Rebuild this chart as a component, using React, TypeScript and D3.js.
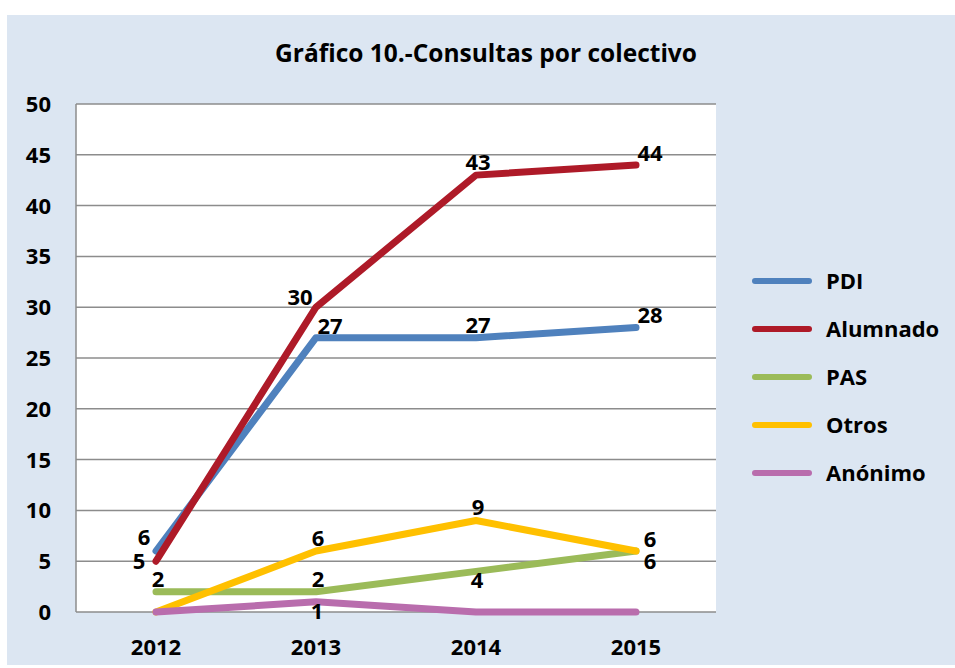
import { useEffect, useRef } from 'react';
import * as d3 from 'd3';

const years = ['2012', '2013', '2014', '2015'];
const seriesNames = ['PDI', 'Alumnado', 'PAS', 'Otros', 'Anónimo'];
const pdi = [6, 27, 27, 28];
const alumnado = [5, 30, 43, 44];
const pas = [2, 2, 4, 6];
const otros = [0, 6, 9, 6];
const anonimo = [0, 1, 0, 0];
const yTicks = [0, 5, 10, 15, 20, 25, 30, 35, 40, 45, 50];

const seriesValues = [pdi, alumnado, pas, otros, anonimo];
const colors = ['#4f81bd', '#ae1a28', '#9bbb59', '#ffc000', '#b96dad'];

// where each point's label sits (null = no label)
const labelPlacement: (string | null)[][] = [
  ['NW', 'NE', 'N', 'NE'],
  ['W', 'WN', 'N', 'NE'],
  ['N', 'N', 'S', 'SE'],
  [null, 'N', 'N', 'NE'],
  [null, 'S', null, null],
];

const offsets: Record<string, [number, number]> = {
  N: [2, -13],
  S: [1, 9],
  W: [-17, 0],
  NW: [-12, -14],
  WN: [-16, -10],
  NE: [14, -12],
  SE: [14, 10],
};

const W = 955;
const H = 668;
const FONT = "'Open Sans', sans-serif";

export default function App() {
  const svgRef = useRef<SVGSVGElement>(null);

  useEffect(() => {
    if (!svgRef.current) return;
    const svg = d3.select(svgRef.current);
    svg.selectAll('*').remove();

    const plot = { left: 76, right: 716, top: 104, bottom: 612 };

    svg.append('rect')
      .attr('x', 7)
      .attr('y', 15)
      .attr('width', W - 7)
      .attr('height', 650)
      .attr('fill', '#dce6f2');

    svg.append('text')
      .attr('x', 486)
      .attr('y', 62)
      .attr('text-anchor', 'middle')
      .attr('font-family', FONT)
      .attr('font-weight', 'bold')
      .attr('font-size', '24.5px')
      .attr('fill', '#000')
      .text('Gráfico 10.-Consultas por colectivo');

    const x = d3.scaleBand()
      .domain(years)
      .range([plot.left, plot.right]);

    const y = d3.scaleLinear()
      .domain([0, 50])
      .range([plot.bottom, plot.top]);

    svg.append('rect')
      .attr('x', plot.left)
      .attr('y', plot.top)
      .attr('width', plot.right - plot.left)
      .attr('height', plot.bottom - plot.top)
      .attr('fill', '#fff');

    svg.append('g')
      .selectAll('line')
      .data(yTicks)
      .join('line')
      .attr('x1', plot.left)
      .attr('x2', plot.right)
      .attr('y1', d => y(d))
      .attr('y2', d => y(d))
      .attr('stroke', '#8c8c8c')
      .attr('stroke-width', 1.5);

    svg.append('line')
      .attr('x1', plot.left)
      .attr('x2', plot.left)
      .attr('y1', plot.top)
      .attr('y2', plot.bottom)
      .attr('stroke', '#8c8c8c')
      .attr('stroke-width', 1.5);

    svg.append('g')
      .selectAll('text')
      .data(yTicks)
      .join('text')
      .attr('x', 51)
      .attr('y', d => y(d))
      .attr('dy', '0.36em')
      .attr('text-anchor', 'end')
      .attr('font-family', FONT)
      .attr('font-weight', 'bold')
      .attr('font-size', '22px')
      .text(d => d);

    svg.append('g')
      .selectAll('text')
      .data(years)
      .join('text')
      .attr('x', d => (x(d) ?? 0) + x.bandwidth() / 2)
      .attr('y', 655)
      .attr('text-anchor', 'middle')
      .attr('font-family', FONT)
      .attr('font-weight', 'bold')
      .attr('font-size', '22px')
      .text(d => d);

    const cx = (i: number) => (x(years[i]) ?? 0) + x.bandwidth() / 2;

    const line = d3.line<number>()
      .x((_, i) => cx(i))
      .y(d => y(d));

    seriesValues.forEach((vals, s) => {
      svg.append('path')
        .datum(vals)
        .attr('fill', 'none')
        .attr('stroke', colors[s])
        .attr('stroke-width', 7)
        .attr('stroke-linecap', 'round')
        .attr('stroke-linejoin', 'round')
        .attr('d', line);
    });

    seriesValues.forEach((vals, s) => {
      vals.forEach((v, i) => {
        const pos = labelPlacement[s][i];
        if (!pos) return;
        const [dx, dy] = offsets[pos];
        svg.append('text')
          .attr('x', cx(i) + dx)
          .attr('y', y(v) + dy)
          .attr('dy', '0.36em')
          .attr('text-anchor', 'middle')
          .attr('font-family', FONT)
          .attr('font-weight', 'bold')
          .attr('font-size', '22px')
          .text(v);
      });
    });

    const legend = svg.append('g')
      .selectAll('g')
      .data(seriesNames)
      .join('g')
      .attr('transform', (_, i) => `translate(753, ${281 + i * 48})`);

    legend.append('line')
      .attr('x1', 2)
      .attr('x2', 56)
      .attr('stroke', (_, i) => colors[i])
      .attr('stroke-width', 6)
      .attr('stroke-linecap', 'round');

    legend.append('text')
      .attr('x', 73)
      .attr('dy', '0.36em')
      .attr('font-family', FONT)
      .attr('font-weight', 'bold')
      .attr('font-size', '22px')
      .text(d => d);
  }, []);

  return (
    <svg
      ref={svgRef}
      width={W}
      height={H}
      style={{ position: 'absolute', left: 0, top: 0, background: '#fff' }}
    />
  );
}
